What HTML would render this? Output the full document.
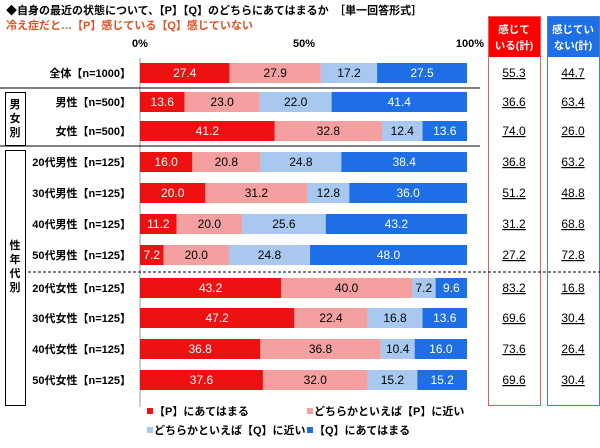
<!DOCTYPE html>
<html><head><meta charset="utf-8"><style>
body{margin:0;background:#fff;font-family:"Liberation Sans","Noto Sans CJK JP",sans-serif;}
svg text{font-family:"Liberation Sans","Noto Sans CJK JP",sans-serif;}
</style></head><body>
<svg id="c" width="600" height="443">
<text x="6" y="14" font-size="11" font-weight="bold" fill="#000">◆自身の最近の状態について、【P】【Q】のどちらにあてはまるか　［単一回答形式］</text>
<text x="6" y="29" font-size="11" font-weight="bold" fill="#e0501e">冷え症だと…【P】感じている【Q】感じていない</text>
<text x="140" y="47" font-size="11" font-weight="bold" text-anchor="middle">0%</text>
<text x="304" y="47" font-size="11" font-weight="bold" text-anchor="middle">50%</text>
<text x="484" y="47" font-size="11" font-weight="bold" text-anchor="end">100%</text>
<rect x="488" y="16" width="53" height="41" fill="#ff0000"/>
<rect x="488.5" y="16.5" width="52" height="389" fill="none" stroke="#e06060"/>
<text x="514" y="33" font-size="10.5" font-weight="bold" fill="#fff" text-anchor="middle">感じて</text>
<text x="514" y="49" font-size="10.5" font-weight="bold" fill="#fff" text-anchor="middle">いる(計)</text>
<rect x="547" y="16" width="53" height="41" fill="#1e6ee6"/>
<rect x="547.5" y="16.5" width="52" height="389" fill="none" stroke="#4a7cc8"/>
<text x="573" y="33" font-size="10.5" font-weight="bold" fill="#fff" text-anchor="middle">感じてい</text>
<text x="573" y="49" font-size="10.5" font-weight="bold" fill="#fff" text-anchor="middle">ない(計)</text>
<line x1="140" y1="58" x2="140" y2="407" stroke="#999"/>
<line x1="0" y1="88" x2="480" y2="88" stroke="#000"/>
<line x1="0" y1="146" x2="480" y2="146" stroke="#000"/>
<line x1="28" y1="272" x2="600" y2="272" stroke="#000" stroke-dasharray="3,2"/>
<rect x="5.5" y="92.5" width="20" height="53" fill="none" stroke="#000"/>
<text x="15" y="108" font-size="11" font-weight="bold" text-anchor="middle">男</text>
<text x="15" y="122" font-size="11" font-weight="bold" text-anchor="middle">女</text>
<text x="15" y="136" font-size="11" font-weight="bold" text-anchor="middle">別</text>
<rect x="5.5" y="150.5" width="20" height="255" fill="none" stroke="#000"/>
<text x="15" y="249" font-size="11" font-weight="bold" text-anchor="middle">性</text>
<text x="15" y="263" font-size="11" font-weight="bold" text-anchor="middle">年</text>
<text x="15" y="277" font-size="11" font-weight="bold" text-anchor="middle">代</text>
<text x="15" y="291" font-size="11" font-weight="bold" text-anchor="middle">別</text>
<g id="bars"></g>
<g>
<rect x="147" y="408" width="6" height="6" fill="#ee1111"/><text x="154" y="415" font-size="11" font-weight="bold">【P】にあてはまる</text>
<rect x="307" y="408" width="6" height="6" fill="#f4a0a0"/><text x="314" y="415" font-size="11" font-weight="bold">どちらかといえば【P】に近い</text>
<rect x="147" y="427" width="6" height="6" fill="#a8c8f0"/><text x="154" y="434" font-size="11" font-weight="bold">どちらかといえば【Q】に近い</text>
<rect x="307" y="427" width="6" height="6" fill="#1e6ee6"/><text x="314" y="434" font-size="11" font-weight="bold">【Q】にあてはまる</text>
</g>
</svg>
<script>
const categories=["全体【n=1000】","男性【n=500】","女性【n=500】","20代男性【n=125】","30代男性【n=125】","40代男性【n=125】","50代男性【n=125】","20代女性【n=125】","30代女性【n=125】","40代女性【n=125】","50代女性【n=125】"];
const pApply=[27.4,13.6,41.2,16.0,20.0,11.2,7.2,43.2,47.2,36.8,37.6];
const pNear=[27.9,23.0,32.8,20.8,31.2,20.0,20.0,40.0,22.4,36.8,32.0];
const qNear=[17.2,22.0,12.4,24.8,12.8,25.6,24.8,7.2,16.8,10.4,15.2];
const qApply=[27.5,41.4,13.6,38.4,36.0,43.2,48.0,9.6,13.6,16.0,15.2];
const feelTotal=["55.3","36.6","74.0","36.8","51.2","31.2","27.2","83.2","69.6","73.6","69.6"];
const notFeelTotal=["44.7","63.4","26.0","63.2","48.8","68.8","72.8","16.8","30.4","26.4","30.4"];
const rowY=[73,102,131,162,193,224,255,288,318,349,380];
const x0=140,x1=467;
const xs=v=>x0+(x1-x0)*v/100;
const colors=["#ee1111","#f4a0a0","#a8c8f0","#1e6ee6"];
const txtCol=["#fff","#000","#000","#fff"];
const series=[pApply,pNear,qNear,qApply];
const NS="http://www.w3.org/2000/svg";
const g=document.getElementById("bars");
function mk(t,a){const e=document.createElementNS(NS,t);for(const k in a)e.setAttribute(k,a[k]);g.appendChild(e);return e;}
categories.forEach((cat,i)=>{
  const cy=rowY[i];
  const lab=mk("text",{x:131,y:cy+4,"font-size":11,"font-weight":"bold","text-anchor":"end"});
  lab.textContent=cat;
  
  
  let acc=0;
  series.forEach((s,j)=>{
    const v=s[i];
    const r=mk("rect",{x:xs(acc),y:cy-10,width:xs(acc+v)-xs(acc),height:20,fill:colors[j]});
    
    
    const t=mk("text",{x:(xs(acc)+xs(acc+v))/2,y:cy+4,"font-size":12,"text-anchor":"middle",fill:txtCol[j]});
    t.textContent=v.toFixed(1);
    
    
    acc+=v;
  });
  const a=mk("text",{x:514,y:cy+4,"font-size":12,"text-anchor":"middle","text-decoration":"underline"});
  a.textContent=feelTotal[i];
  
  
  const b=mk("text",{x:573,y:cy+4,"font-size":12,"text-anchor":"middle","text-decoration":"underline"});
  b.textContent=notFeelTotal[i];
  
  
});
</script>
</body></html>
